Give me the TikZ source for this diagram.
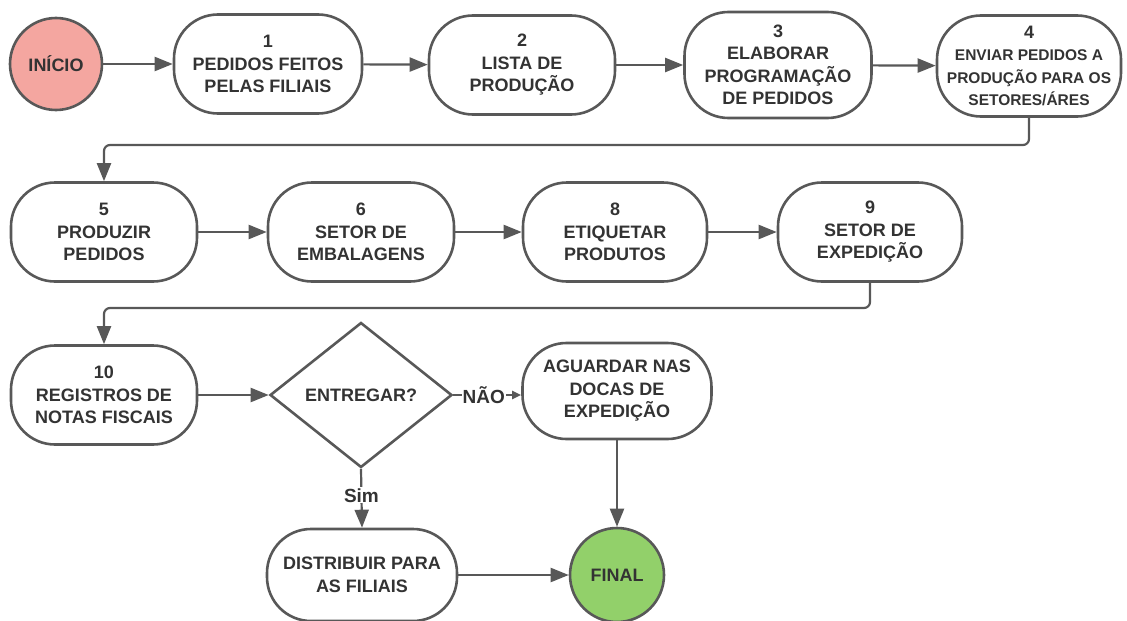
\documentclass[tikz,border=0pt]{standalone}
\usepackage{fontspec}
\setmainfont{Liberation Sans}
\usetikzlibrary{arrows.meta,shapes.geometric}
\definecolor{linegray}{RGB}{88,88,88}
\definecolor{textgray}{RGB}{51,51,51}
\definecolor{startpink}{RGB}{244,166,160}
\definecolor{endgreen}{RGB}{146,208,106}

\begin{document}
\begin{tikzpicture}[x=1pt,y=-1pt,
  every node/.style={text=textgray, font=\fontsize{18}{22.5}\selectfont\bfseries},
  stepbox/.style={draw=linegray, line width=2.6pt, rounded corners=44pt, fill=white, align=center, minimum width=186pt, minimum height=99pt, inner sep=2pt},
  terminal/.style={circle, draw=linegray, line width=2.6pt, minimum size=92pt, inner sep=0pt},
  decision/.style={diamond, draw=linegray, line width=2.6pt, aspect=1.25, minimum width=182pt, minimum height=145pt, inner sep=0pt},
  flow/.style={draw=linegray, line width=2.2pt, -{Triangle[length=18pt,width=14pt]}},
  smallfont/.style={font=\fontsize{15.5}{20}\selectfont\bfseries},
  tag/.style={fill=white, inner sep=1pt, font=\fontsize{19}{22}\selectfont\bfseries}]
\useasboundingbox (0,0) rectangle (1127,621);

%Shape: Circle [id:inicio]
\node [terminal, fill=startpink] (inicio) at (56,64) {INÍCIO};
%Shape: Rounded Rect [row 1]
\node [stepbox, minimum width=188pt] (p1) at (268,64) {1\\PEDIDOS FEITOS\\PELAS FILIAIS};
\node [stepbox] (p2) at (522,65) {2\\LISTA DE\\PRODUÇÃO};
\node [stepbox, minimum width=187pt, minimum height=106pt] (p3) at (778,65) {3\\ELABORAR\\PROGRAMAÇÃO\\DE PEDIDOS};
\node [stepbox, minimum width=184pt, minimum height=101pt] (p4) at (1029,66) {4\\{\fontsize{15.5}{20}\selectfont ENVIAR PEDIDOS A}\\{\fontsize{15.5}{20}\selectfont PRODUÇÃO PARA OS}\\{\fontsize{15.5}{20}\selectfont SETORES/ÁRES}};

%Shape: Rounded Rect [row 2]
\node [stepbox] (p5) at (104,232) {5\\PRODUZIR\\PEDIDOS};
\node [stepbox] (p6) at (361,232) {6\\SETOR DE\\EMBALAGENS};
\node [stepbox, minimum width=184pt] (p8) at (615,232) {8\\ETIQUETAR\\PRODUTOS};
\node [stepbox, minimum width=184pt] (p9) at (870,232) {9\\SETOR DE\\EXPEDIÇÃO};

%Shape: Rounded Rect + Diamond [row 3]
\node [stepbox] (p10) at (104,395) {10\\REGISTROS DE\\NOTAS FISCAIS};
\node [decision] (entregar) at (361,395) {ENTREGAR?};
\node [stepbox, minimum width=189pt, minimum height=96pt] (aguardar) at (617,391) {AGUARDAR NAS\\DOCAS DE\\EXPEDIÇÃO};

%Shape: Rounded Rect + Circle [row 4]
\node [stepbox, minimum width=190pt, minimum height=92pt] (distribuir) at (362,575) {DISTRIBUIR PARA\\AS FILIAIS};
\node [terminal, fill=endgreen, minimum size=94pt] (final) at (617,575) {FINAL};

%Elbow points
\coordinate (turnA) at (600,145);
\coordinate (turnB) at (500,308);

%Straight Lines
\draw [flow] (inicio) -- (p1);
\draw [flow] (p1) -- (p2);
\draw [flow] (p2) -- (p3);
\draw [flow] (p3) -- (p4);
\draw [flow, rounded corners=6pt] (p4.south) |- (turnA) -| (p5.north);
\draw [flow] (p5) -- (p6);
\draw [flow] (p6) -- (p8);
\draw [flow] (p8) -- (p9);
\draw [flow, rounded corners=6pt] (p9.south) |- (turnB) -| (p10.north);
\draw [flow] (p10) -- (entregar);
\draw [draw=linegray, line width=2.2pt, -{Triangle[length=9pt,width=8pt]}] (entregar.east) -- node [tag, pos=0.45] {NÃO} (entregar.east -| aguardar.west);
\draw [flow] (entregar.south) -- node [tag, pos=0.45] {Sim} (distribuir.north);
\draw [flow] (aguardar.south) -- (final.north);
\draw [flow] (distribuir.east) -- (final.west);

\end{tikzpicture}
\end{document}
